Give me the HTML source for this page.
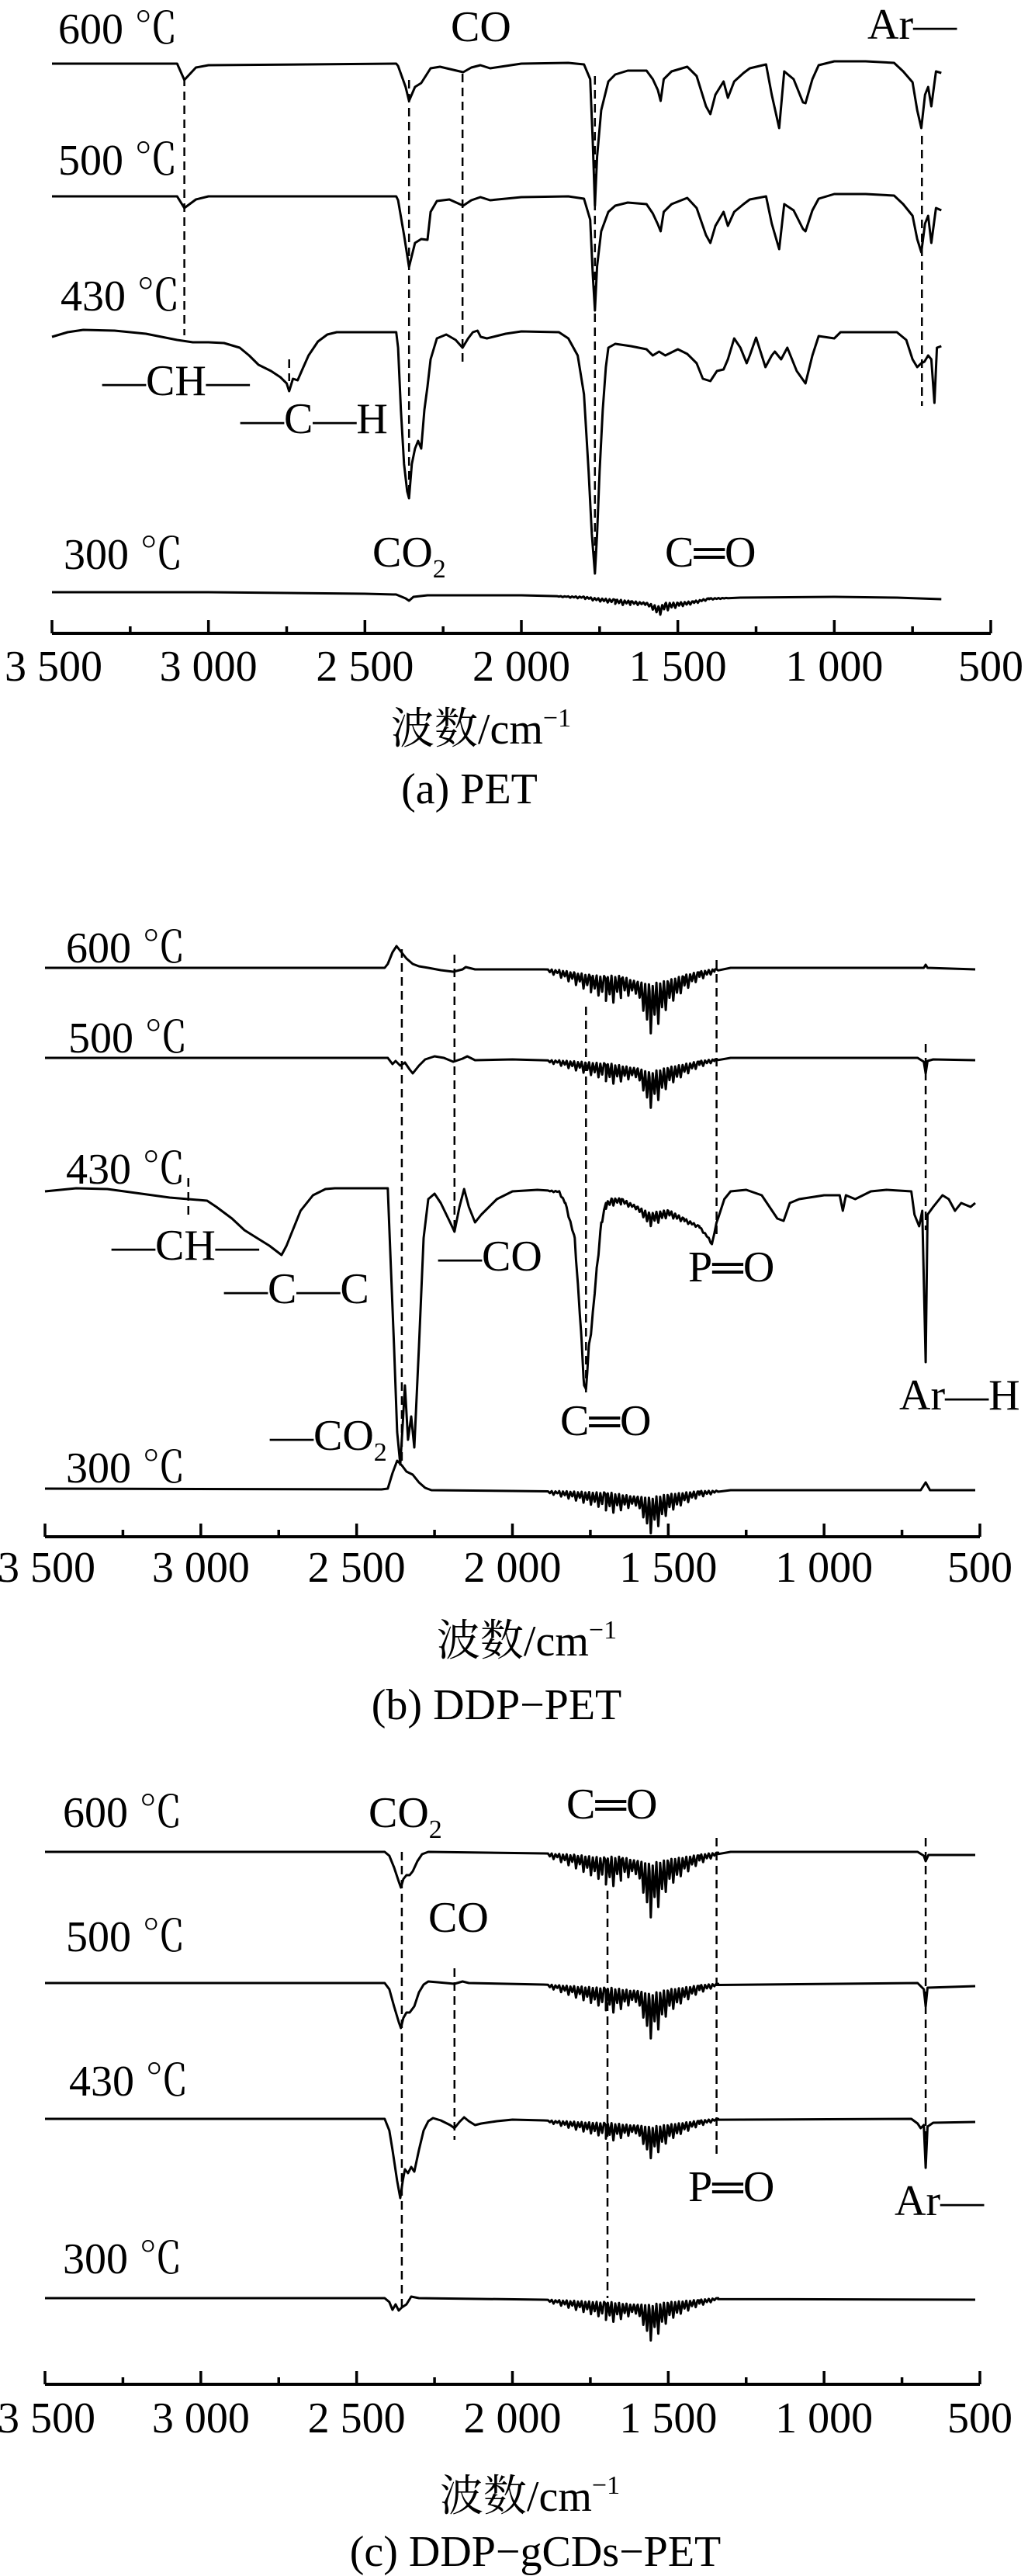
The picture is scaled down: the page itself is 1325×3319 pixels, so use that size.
<!DOCTYPE html>
<html><head><meta charset="utf-8">
<style>
html,body{margin:0;padding:0;background:#fff;}
svg{display:block;}
text{font-family:"Liberation Serif","Noto Serif CJK SC",serif;fill:#000;}
.cjk{font-family:"Liberation Serif","Noto Serif CJK SC","Noto Sans CJK SC",serif;}
</style></head>
<body>
<svg id="chart" width="1325" height="3319" viewBox="0 0 1325 3319" xmlns="http://www.w3.org/2000/svg">
<g id="layer"></g>
</svg>
<script>
// ---------- data (wavenumber, depth) ----------
const tickValues = [3500, 3000, 2500, 2000, 1500, 1000, 500];
const tickLabels = ["3 500", "3 000", "2 500", "2 000", "1 500", "1 000", "500"];
const minorTicks = [3250, 2750, 2250, 1750, 1250, 750];
const waterLines = [1880,1868,1856,1844,1832,1820,1808,1796,1784,1772,1760,1748,1736,1724,1712,1700,1688,1676,1664,1652,1640,1628,1616,1604,1592,1580,1568,1556,1544,1532,1520,1508,1496,1484,1472,1460,1448,1436,1424,1412,1400,1388,1376,1364,1352,1340];
const waterRel = [.05,.1,.05,.15,.1,.2,.12,.25,.15,.3,.2,.35,.25,.4,.3,.5,.35,.55,.3,.45,.25,.35,.2,.25,.3,.55,.7,1.0,.6,.85,.5,.6,.35,.45,.3,.35,.2,.28,.15,.2,.1,.15,.08,.1,.05,.03];

const pet600 = [[3500,0],[3100,0],[3077,21],[3040,5],[3000,2],[2400,0],[2394,3],[2370,30],[2359,48],[2340,30],[2320,25],[2290,6],[2260,4],[2186,11],[2160,5],[2131,2],[2100,6],[2050,3],[2000,0],[1850,-1],[1800,1],[1780,20],[1772,100],[1765,183],[1758,120],[1745,60],[1722,23],[1700,14],[1660,9],[1600,9],[1580,20],[1564,34],[1555,48],[1545,20],[1520,10],[1470,4],[1440,16],[1410,55],[1396,65],[1380,40],[1354,23],[1340,44],[1320,23],[1290,12],[1270,6],[1218,1],[1200,40],[1176,83],[1160,10],[1130,20],[1100,50],[1092,51],[1070,20],[1050,2],[1000,-3],[900,-3],[809,-1],[780,10],[750,24],[735,60],[722,83],[710,40],[700,30],[690,55],[675,10],[658,12]];
const pet500 = [[3500,0],[3100,0],[3077,15],[3040,4],[3000,0],[2400,0],[2394,5],[2375,50],[2359,91],[2340,60],[2320,55],[2300,56],[2290,20],[2270,6],[2230,4],[2186,12],[2160,5],[2131,1],[2100,5],[2000,1],[1850,0],[1800,3],[1780,30],[1772,100],[1765,147],[1758,90],[1745,45],[1722,20],[1700,12],[1660,8],[1600,10],[1580,22],[1564,36],[1555,45],[1545,20],[1520,10],[1470,2],[1440,15],[1410,50],[1396,60],[1380,38],[1354,20],[1340,38],[1320,20],[1290,10],[1270,4],[1218,0],[1200,35],[1176,68],[1160,10],[1130,18],[1100,42],[1092,45],[1070,18],[1050,3],[1000,-3],[900,-3],[809,-1],[780,10],[750,25],[735,55],[722,72],[710,35],[700,25],[690,60],[675,15],[658,18]];
const pet430 = [[3500,6],[3450,0],[3400,-3],[3300,-2],[3200,2],[3100,10],[3050,13],[3000,13],[2950,14],[2900,20],[2870,30],[2840,42],[2800,50],[2770,58],[2750,66],[2742,76],[2730,60],[2715,62],[2700,48],[2680,30],[2650,12],[2620,3],[2590,0],[2400,0],[2394,20],[2385,100],[2375,170],[2365,205],[2359,214],[2350,170],[2340,150],[2330,140],[2320,150],[2310,100],[2300,70],[2290,35],[2270,8],[2240,3],[2210,10],[2188,20],[2170,8],[2155,0],[2140,-2],[2130,6],[2110,8],[2080,5],[2050,2],[2000,-1],[1880,0],[1850,8],[1820,30],[1800,80],[1785,180],[1775,260],[1765,311],[1758,260],[1750,180],[1740,100],[1730,45],[1722,20],[1700,15],[1650,18],[1600,22],[1580,30],[1560,25],[1540,30],[1500,22],[1470,28],[1440,40],[1420,60],[1396,63],[1375,50],[1354,48],[1340,35],[1320,8],[1300,20],[1280,40],[1270,30],[1250,7],[1220,45],[1200,30],[1190,25],[1170,35],[1150,20],[1120,50],[1092,66],[1070,30],[1050,5],[1000,8],[980,0],[900,0],[800,0],[770,10],[750,35],[735,45],[722,40],[712,38],[700,30],[690,35],[680,91],[672,20],[658,18]];
const pet300 = [[3500,0],[3000,0],[2500,2],[2400,3],[2370,8],[2359,11],[2345,6],[2300,4],[2000,4],[1800,6],[1765,8],[1700,10],[1650,12],[1600,14],[1560,20],[1540,15],[1500,14],[1450,12],[1400,8],[1300,7],[1000,6],[800,7],[658,9]];

const ddp600 = [[3500,0],[2410,0],[2400,-5],[2385,-20],[2372,-28],[2360,-22],[2340,-12],[2320,-5],[2300,-2],[2270,0],[2230,3],[2190,5],[2160,2],[2150,-1],[2120,2],[2000,2],[1900,2],[1850,4],[1800,8],[1750,12],[1700,15],[1650,14],[1600,20],[1560,30],[1500,20],[1450,12],[1400,6],[1350,2],[1300,0],[900,0],[680,0],[674,-4],[668,0],[515,2]];
const ddp500 = [[3500,0],[2400,0],[2385,8],[2375,4],[2360,10],[2345,6],[2330,15],[2320,20],[2300,10],[2280,2],[2250,-2],[2220,0],[2190,5],[2160,1],[2145,-2],[2120,3],[2000,2],[1850,4],[1700,10],[1600,15],[1560,25],[1500,15],[1400,5],[1350,2],[1300,0],[700,0],[680,5],[674,20],[668,4],[650,2],[515,3]];
const ddp430 = [[3500,0],[3400,-4],[3300,-3],[3100,8],[3040,10],[2980,12],[2950,20],[2900,35],[2860,50],[2820,60],[2780,70],[2741,82],[2725,70],[2710,55],[2680,25],[2640,5],[2600,-3],[2570,-4],[2400,-4],[2390,100],[2380,200],[2370,310],[2360,352],[2352,300],[2345,250],[2335,320],[2325,290],[2315,330],[2300,200],[2285,60],[2270,10],[2250,3],[2230,15],[2200,40],[2186,52],[2170,20],[2155,-3],[2140,20],[2120,40],[2100,30],[2050,10],[2000,0],[1920,-2],[1850,0],[1830,15],[1800,60],[1780,180],[1770,250],[1764,255],[1755,200],[1745,170],[1730,100],[1715,40],[1700,15],[1680,10],[1650,10],[1600,20],[1560,30],[1500,25],[1450,35],[1400,45],[1370,60],[1360,68],[1345,40],[1320,10],[1300,0],[1250,-2],[1200,5],[1150,35],[1130,38],[1110,15],[1080,10],[1000,5],[950,5],[940,25],[930,5],[900,10],[850,0],[800,-2],[720,0],[710,30],[695,45],[685,25],[674,220],[668,30],[650,20],[620,5],[600,10],[580,25],[560,15],[530,20],[515,15]];
const ddp300 = [[3500,0],[2420,1],[2400,0],[2385,-20],[2370,-36],[2355,-30],[2340,-22],[2320,-18],[2300,-8],[2280,-1],[2260,2],[2000,3],[1850,4],[1700,8],[1600,12],[1560,18],[1500,10],[1400,4],[1300,2],[690,2],[674,-8],[660,2],[515,2]];

const g600 = [[3500,0],[2410,0],[2395,5],[2380,20],[2365,38],[2358,46],[2350,35],[2340,30],[2330,30],[2320,25],[2305,12],[2290,3],[2270,0],[1900,2],[1800,6],[1700,12],[1650,10],[1600,14],[1560,25],[1500,14],[1400,5],[1340,1],[1300,0],[700,0],[680,5],[674,12],[665,4],[515,4]];
const g500 = [[3500,0],[2410,0],[2395,8],[2380,30],[2365,50],[2358,58],[2350,45],[2340,38],[2330,38],[2315,30],[2300,12],[2285,2],[2270,-2],[2240,-1],[2186,1],[2160,-2],[2140,0],[1900,2],[1700,10],[1600,12],[1560,22],[1500,12],[1400,4],[1340,1],[700,0],[680,8],[674,30],[668,6],[515,4]];
const g430 = [[3500,0],[2410,0],[2395,15],[2385,40],[2370,80],[2360,102],[2352,80],[2345,65],[2335,70],[2325,62],[2315,68],[2300,40],[2285,15],[2270,3],[2255,-1],[2230,2],[2200,8],[2186,12],[2170,4],[2155,-2],[2140,3],[2120,8],[2100,6],[2050,3],[2000,1],[1900,2],[1700,8],[1600,10],[1560,16],[1500,10],[1400,3],[1340,0],[720,0],[700,6],[690,12],[680,8],[674,63],[668,10],[650,5],[515,4]];
const g300 = [[3500,0],[2410,0],[2395,5],[2385,15],[2375,8],[2365,16],[2355,12],[2340,8],[2325,-2],[2300,0],[1900,2],[1700,8],[1600,10],[1560,15],[1500,8],[1400,3],[1340,0],[515,2]];

const waterAmp = {pet300:10, ddp600:55, ddp500:40, ddp430:15, ddp300:40, g600:60, g500:50, g430:35, g300:40};

// ---------- layout ----------
const panels = [
 {id:'a', x0:67, x1:1277, axisY:816, tickY:877, titleX:620, titleY:958, capX:605, capY:1035, caption:'(a) PET',
  traces:[['pet600',pet600,82,'600',75,56],['pet500',pet500,253,'500',75,225],['pet430',pet430,428,'430',78,400],['pet300',pet300,763,'300',82,733]],
  dashes:[[3077,100,432],[2359,103,642],[2188,95,467],[1765,98,737],[720,175,523],[2742,463,491]]},
 {id:'b', x0:58, x1:1263, axisY:1980, tickY:2038, titleX:679, titleY:2133, capX:640, capY:2215, caption:'(b) DDP\u2212PET',
  traces:[['ddp600',ddp600,1247,'600',85,1240],['ddp500',ddp500,1363,'500',88,1356],['ddp430',ddp430,1535,'430',85,1525],['ddp300',ddp300,1918,'300',85,1910]],
  dashes:[[2355,1223,1888],[2186,1230,1585],[1764,1297,1800],[1345,1237,1590],[674,1345,1585],[3040,1518,1570]]},
 {id:'c', x0:58, x1:1263, axisY:3072, tickY:3134, titleX:683, titleY:3235, capX:690, capY:3306, caption:'(c) DDP\u2212gCDs\u2212PET',
  traces:[['g600',g600,2386,'600',81,2354],['g500',g500,2555,'500',85,2514],['g430',g430,2730,'430',89,2700],['g300',g300,2961,'300',81,2929]],
  dashes:[[2355,2386,2978],[2186,2536,2757],[1695,2436,2961],[1345,2368,2778],[674,2368,2790]]}
];
const chemLabels = [
 ['a','CO',581,53],['a','Ar\u2014',1118,50],['a','\u2014CH\u2014',132,509],['a','\u2014C\u2014H',310,558],['a','C\u2550O',857,730],
 ['b','\u2014CH\u2014',144,1623],['b','\u2014C\u2014C',289,1679],['b','\u2014CO',565,1637],['b','P\u2550O',887,1651],['b','C\u2550O',722,1849],['b','Ar\u2014H',1159,1816],
 ['c','C\u2550O',730,2343],['c','CO',552,2489],['c','P\u2550O',887,2836],['c','Ar\u2014',1153,2854]
];
const co2Labels = [['a','CO',480,730],['b','\u2014CO',348,1868],['c','CO',475,2354]];

const NS='http://www.w3.org/2000/svg';
const layer=document.getElementById('layer');
function mk(tag, attrs, parent){const e=document.createElementNS(NS,tag);for(const k in attrs)e.setAttribute(k,attrs[k]);(parent||layer).appendChild(e);return e;}
function interp(pts,w){for(let i=0;i<pts.length-1;i++){const a=pts[i],b=pts[i+1];if(w<=a[0]&&w>=b[0]){const t=(a[0]-w)/(a[0]-b[0]||1);return a[1]+t*(b[1]-a[1]);}}return pts[pts.length-1][1];}

panels.forEach(p=>{
  const g=mk('g',{});
  
  
  const xs=w=>p.x0+(3500-w)*(p.x1-p.x0)/3000;
  // axis
  const ax=mk('path',{d:`M${p.x0},${p.axisY}H${p.x1}`,stroke:'#000','stroke-width':4,fill:'none'},g);
  
  
  tickValues.forEach((v,i)=>{
    const t=mk('line',{x1:xs(v),x2:xs(v),y1:p.axisY,y2:p.axisY-17,stroke:'#000','stroke-width':3.5},g);
    
    
    const tl=mk('text',{x:xs(v)+(v===3500?2:0),y:p.tickY,'font-size':56,'text-anchor':'middle'},g);
    tl.textContent=tickLabels[i];
    
    
  });
  minorTicks.forEach(v=>{
    const t=mk('line',{x1:xs(v),x2:xs(v),y1:p.axisY,y2:p.axisY-9,stroke:'#000','stroke-width':3.5},g);
    
    
  });
  const tt=mk('text',{x:p.titleX,y:p.titleY,'font-size':56,'text-anchor':'middle','class':'cjk'},g);
  tt.innerHTML='波数/cm<tspan dy="-22" font-size="34">\u22121</tspan>';
  
  
  const cp=mk('text',{x:p.capX,y:p.capY,'font-size':56,'text-anchor':'middle'},g);
  cp.textContent=p.caption;
  
  
  // dashes
  p.dashes.forEach(d=>{
    const l=mk('line',{x1:xs(d[0]),x2:xs(d[0]),y1:d[1],y2:d[2],stroke:'#000','stroke-width':2.5,'stroke-dasharray':'11,7'},g);
    
    
  });
  // traces
  p.traces.forEach(tr=>{
    const [name,pts,base,temp,lx,ly]=tr;
    let all=pts.map(q=>[q[0],q[1]]);
    const amp=waterAmp[name]||0;
    if(amp){
      waterLines.forEach((w,i)=>{
        const b1=interp(pts,w+6);all.push([w+6,b1-amp*waterRel[i]*0.15]);
        const b2=interp(pts,w);all.push([w,b2+amp*waterRel[i]]);
      });
      all.sort((a,b)=>b[0]-a[0]);
    }
    const d=all.map((q,i)=>(i?'L':'M')+xs(q[0]).toFixed(1)+','+(base+q[1]).toFixed(1)).join('');
    const path=mk('path',{d:d,stroke:'#000','stroke-width':3,fill:'none','stroke-linejoin':'round'},g);
    
    
    const lab=mk('text',{x:lx,y:ly,'font-size':56,'class':'cjk'},g);
    lab.textContent=temp+' \u2103';
    
    
  });
  chemLabels.filter(c=>c[0]===p.id).forEach(c=>{
    const t=mk('text',{x:c[2],y:c[3],'font-size':56},g);
    t.textContent=c[1];
    
    
  });
  co2Labels.filter(c=>c[0]===p.id).forEach(c=>{
    const t=mk('text',{x:c[2],y:c[3],'font-size':56},g);
    t.innerHTML=c[1]+'<tspan dy="14" font-size="34">2</tspan>';
    
    
  });
});
</script>
</body></html>
